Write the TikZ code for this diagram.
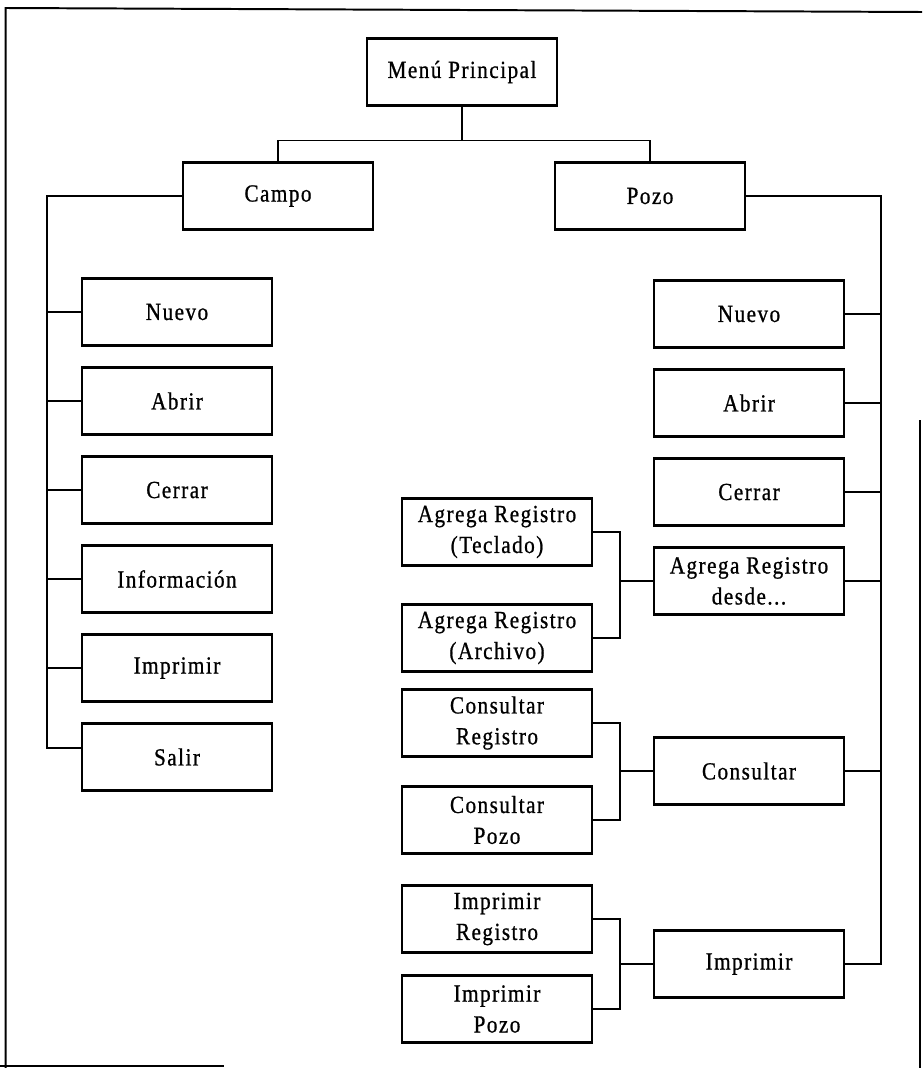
\documentclass[tikz,border=0pt]{standalone}
\usepackage{fontspec}
\setmainfont{Liberation Serif}[LetterSpace=6, FakeStretch=0.86, FakeBold=0.8]
\usetikzlibrary{positioning, calc}

\begin{document}
\begin{tikzpicture}[
    node distance=0.55cm,
    line width=1.4pt,
    box/.style={rectangle, draw=black, line width=1.8pt, outer sep=0pt, minimum width=4.75cm, minimum height=1.675cm, align=center, font=\fontsize{17.5}{22}\selectfont}
]
    \useasboundingbox (0,0) rectangle (23.05,-26.7);
    % page frame
    \draw (0.14,-26.7) -- (0.14,-0.2) -- (23.05,-0.3);
    \draw (23.0,-10.5) -- (23.0,-26.7);
    \draw (0,-26.65) -- (5.6,-26.65);

    \node[box] (menu) at (11.55,-1.8) {Menú Principal};
    \node[box, below=1.425cm of menu, xshift=-4.6cm] (campo) {Campo};
    \node[box, below=1.425cm of menu, xshift=4.7cm] (pozo) {Pozo};

    % menu Campo
    \node[box, below=1.225cm of campo, xshift=-2.525cm] (cnuevo) {Nuevo};
    \node[box, below=of cnuevo] (cabrir) {Abrir};
    \node[box, below=of cabrir] (ccerrar) {Cerrar};
    \node[box, below=of ccerrar] (cinfo) {Información};
    \node[box, below=of cinfo] (cimprimir) {Imprimir};
    \node[box, below=of cimprimir] (csalir) {Salir};

    % menu Pozo
    \node[box, below=1.275cm of pozo, xshift=2.475cm] (pnuevo) {Nuevo};
    \node[box, below=of pnuevo] (pabrir) {Abrir};
    \node[box, below=of pabrir] (pcerrar) {Cerrar};
    \node[box, below=of pcerrar] (pdesde) {Agrega Registro\\desde...};
    \node[box, below=3.075cm of pdesde] (pconsultar) {Consultar};
    \node[box, below=3.15cm of pconsultar] (pimprimir) {Imprimir};

    % submenus
    \node[box, left=1.55cm of pdesde, yshift=1.225cm] (ateclado) {Agrega Registro\\(Teclado)};
    \node[box, below=0.975cm of ateclado] (aarchivo) {Agrega Registro\\(Archivo)};
    \node[box, left=1.55cm of pconsultar, yshift=1.2cm] (creg) {Consultar\\Registro};
    \node[box, below=0.75cm of creg] (cpozo) {Consultar\\Pozo};
    \node[box, left=1.55cm of pimprimir, yshift=1.125cm] (ireg) {Imprimir\\Registro};
    \node[box, below=0.575cm of ireg] (ipozo) {Imprimir\\Pozo};

    \draw (menu.south) -- ++(0,-0.875) coordinate (mjoin);
    \draw (campo.north) |- (mjoin) -| (pozo.north);

    \draw (campo.west) -- ++(-3.4,0) coordinate (ltrunk) |- ([yshift=0.225cm]csalir.west);
    \foreach \n in {cnuevo, cabrir, ccerrar, cinfo, cimprimir}
        \draw (\n.west) -- (\n.west -| ltrunk);

    \draw (pozo.east) -- ++(3.4,0) coordinate (rtrunk) |- (pimprimir.east);
    \foreach \n in {pnuevo, pabrir, pcerrar, pdesde, pconsultar}
        \draw (\n.east) -- (\n.east -| rtrunk);

    \foreach \a/\b/\p in {ateclado/aarchivo/pdesde, creg/cpozo/pconsultar, ireg/ipozo/pimprimir} {
        \draw (\a.east) -- ++(0.7,0) coordinate (join) |- (\b.east);
        \draw (\p.west) -- (\p.west -| join);
    }
\end{tikzpicture}
\end{document}
